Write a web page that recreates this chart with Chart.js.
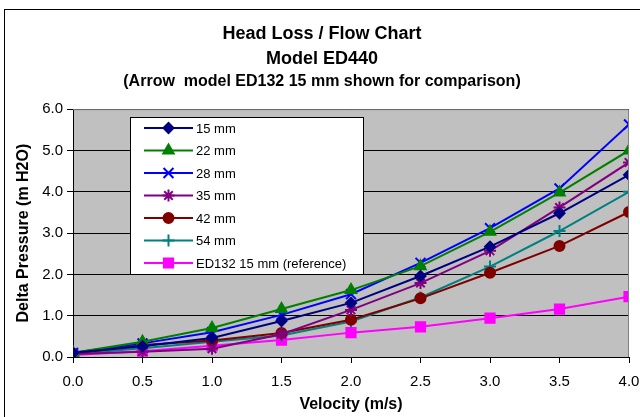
<!DOCTYPE html>
<html>
<head>
<meta charset="utf-8">
<title>Head Loss / Flow Chart</title>
<script src="https://cdn.jsdelivr.net/npm/chart.js"></script>
<style>
  html, body { margin: 0; padding: 0; background: #ffffff; }
  #contenedor { width: 640px; height: 417px; }
</style>
</head>
<body>
<div id="contenedor"><canvas id="perdidaCarga"></canvas></div>
<script>
// Velocidad (m/s)
const velocidades = [0.0, 0.5, 1.0, 1.5, 2.0, 2.5, 3.0, 3.5, 4.0];

// Delta de presion (m H2O) por diametro
const serie15mm = [0.10, 0.26, 0.46, 0.87, 1.31, 1.96, 2.67, 3.48, 4.41];
const serie22mm = [0.10, 0.37, 0.70, 1.16, 1.62, 2.20, 3.03, 3.98, 5.00];
const serie28mm = [0.10, 0.33, 0.60, 1.02, 1.52, 2.28, 3.12, 4.08, 5.63];
const serie35mm = [0.07, 0.13, 0.20, 0.55, 1.14, 1.79, 2.57, 3.62, 4.71];
const serie42mm = [0.08, 0.29, 0.40, 0.58, 0.90, 1.42, 2.04, 2.69, 3.51];
const serie54mm = [0.07, 0.21, 0.37, 0.52, 0.86, 1.44, 2.19, 3.05, 4.00];
const serieED132 = [0.05, 0.14, 0.27, 0.41, 0.59, 0.73, 0.94, 1.16, 1.46];

const nombresSeries = ['15 mm', '22 mm', '28 mm', '35 mm', '42 mm', '54 mm', 'ED132 15 mm (reference)'];

const fuente = "'Liberation Sans', Arial, Helvetica, sans-serif";

/**
 * Une las velocidades con los valores de una serie
 */
var obtenerPuntos = function(valores) {
    const puntos = [];
    valores.forEach((v, i) => {
        puntos.push({ x: velocidades[i], y: v });
    });
    return puntos;
}

/**
 * Arma un dataset con su color y su marcador
 */
var armarSerie = function(nombre, valores, color, marcador, radio) {
    return {
        label: nombre,
        data: obtenerPuntos(valores),
        borderColor: color,
        backgroundColor: color,
        borderWidth: 2,
        pointStyle: marcador,
        pointRadius: radio,
        pointHoverRadius: radio,
        pointBackgroundColor: color,
        pointBorderColor: color,
        pointBorderWidth: 2,
        tension: 0,
        fill: false
    };
}

// Fondo gris del area de trazado y marco del grafico
const fondoPlugin = {
    id: 'fondo',
    beforeDraw(chart) {
        const ctx = chart.ctx;
        const a = chart.chartArea;
        ctx.save();
        ctx.fillStyle = '#ffffff';
        ctx.fillRect(0, 0, chart.width, chart.height);
        ctx.strokeStyle = '#000000';
        ctx.lineWidth = 1;
        ctx.strokeRect(4.5, 9.5, chart.width + 20, chart.height + 20);
        ctx.fillStyle = '#c0c0c0';
        ctx.fillRect(a.left, a.top, a.right - a.left, a.bottom - a.top);
        ctx.restore();
    },
    afterDatasetsDraw(chart) {
        const ctx = chart.ctx;
        const a = chart.chartArea;
        ctx.save();
        ctx.strokeStyle = '#808080';
        ctx.lineWidth = 1;
        ctx.beginPath();
        ctx.moveTo(a.left, a.top + 0.5);
        ctx.lineTo(a.right - 0.5, a.top + 0.5);
        ctx.lineTo(a.right - 0.5, a.bottom);
        ctx.stroke();
        ctx.restore();
    }
};

// Leyenda dentro del area de trazado
const leyendaPlugin = {
    id: 'leyendaInterna',
    afterDraw(chart) {
        const ctx = chart.ctx;
        const x0 = 130, y0 = 117, ancho = 233, alto = 157, paso = 22.5;
        ctx.save();
        ctx.fillStyle = '#ffffff';
        ctx.fillRect(x0, y0, ancho, alto);
        ctx.strokeStyle = '#000000';
        ctx.lineWidth = 1;
        ctx.strokeRect(x0 + 0.5, y0 + 0.5, ancho, alto);
        ctx.font = '13px ' + fuente;
        ctx.textBaseline = 'middle';
        chart.data.datasets.forEach((ds, i) => {
            const y = y0 + 11 + i * paso;
            ctx.strokeStyle = ds.borderColor;
            ctx.lineWidth = 2;
            ctx.beginPath();
            ctx.moveTo(x0 + 14, y);
            ctx.lineTo(x0 + 63, y);
            ctx.stroke();
            ctx.fillStyle = ds.borderColor;
            Chart.helpers.drawPoint(ctx, {
                pointStyle: ds.pointStyle,
                radius: ds.pointRadius,
                borderWidth: 2,
                rotation: 0
            }, x0 + 38.5, y);
            ctx.fillStyle = '#000000';
            ctx.fillText(ds.label, x0 + 66, y + 1);
        });
        ctx.restore();
    }
};

const ctx = document.getElementById('perdidaCarga');

new Chart(ctx, {
    type: 'line',
    data: {
        datasets: [
            armarSerie(nombresSeries[0], serie15mm, '#000080', 'rectRot', 5),
            armarSerie(nombresSeries[1], serie22mm, '#008000', 'triangle', 6),
            armarSerie(nombresSeries[2], serie28mm, '#0000ff', 'crossRot', 7),
            armarSerie(nombresSeries[3], serie35mm, '#800080', 'star', 6),
            armarSerie(nombresSeries[4], serie42mm, '#800000', 'circle', 5),
            armarSerie(nombresSeries[5], serie54mm, '#008080', 'cross', 6),
            armarSerie(nombresSeries[6], serieED132, '#ff00ff', 'rect', 6.5)
        ]
    },
    options: {
        responsive: true,
        maintainAspectRatio: false,
        animation: false,
        layout: { padding: { left: 4, right: 0, top: 0, bottom: 0 } },
        plugins: {
            legend: { display: false },
            tooltip: { enabled: false },
            title: {
                display: true,
                text: ['Head Loss / Flow Chart', 'Model ED440'],
                color: '#000000',
                font: { family: fuente, size: 18, weight: 'bold', lineHeight: 1.36 },
                padding: { top: 22, bottom: 0 }
            },
            subtitle: {
                display: true,
                text: '(Arrow  model ED132 15 mm shown for comparison)',
                color: '#000000',
                font: { family: fuente, size: 16, weight: 'bold', lineHeight: 1.2 },
                padding: { top: 1, bottom: 18 }
            }
        },
        scales: {
            x: {
                type: 'linear',
                min: 0,
                max: 4,
                afterFit: function(scale) {
                    scale.height = 60;
                    scale.paddingLeft = 0;
                    scale.paddingRight = 11;
                },
                ticks: {
                    stepSize: 0.5,
                    color: '#000000',
                    padding: 10,
                    font: { family: fuente, size: 15 },
                    callback: function(v) { return v.toFixed(1); }
                },
                grid: {
                    drawOnChartArea: false,
                    drawTicks: true,
                    tickLength: 6,
                    tickColor: '#000000'
                },
                border: { color: '#000000', width: 1 },
                title: {
                    display: true,
                    text: 'Velocity (m/s)',
                    color: '#000000',
                    font: { family: fuente, size: 16, weight: 'bold', lineHeight: 1.2 },
                    padding: { top: 0, bottom: 2.5 }
                }
            },
            y: {
                min: 0,
                max: 6,
                afterFit: function(scale) { scale.width = 69; },
                ticks: {
                    stepSize: 1,
                    color: '#000000',
                    padding: 4,
                    font: { family: fuente, size: 15 },
                    callback: function(v) { return v.toFixed(1); }
                },
                grid: {
                    color: '#000000',
                    lineWidth: 1,
                    drawTicks: true,
                    tickLength: 6,
                    tickColor: '#000000'
                },
                border: { color: '#000000', width: 1 },
                title: {
                    display: true,
                    text: 'Delta Pressure (m H2O)',
                    color: '#000000',
                    font: { family: fuente, size: 16, weight: 'bold', lineHeight: 1.2 },
                    padding: { top: 10, bottom: 0 }
                }
            }
        }
    },
    plugins: [fondoPlugin, leyendaPlugin]
});
</script>
</body>
</html>
